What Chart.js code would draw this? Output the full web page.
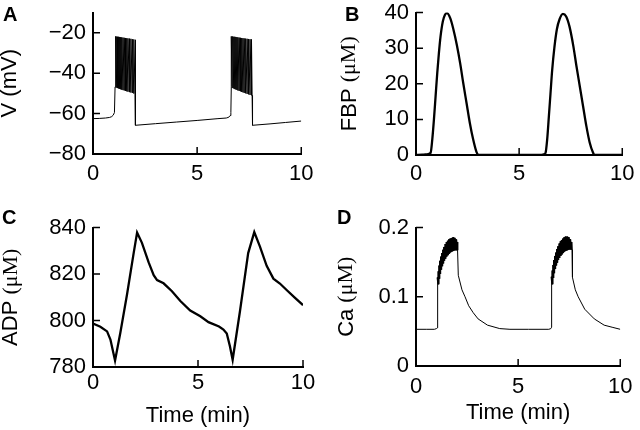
<!DOCTYPE html>
<html>
<head>
<meta charset="utf-8">
<script src="https://cdn.jsdelivr.net/npm/chart.js@4.4.0/dist/chart.umd.min.js"></script>
<style>
    body { margin: 0; background: #fff; }
    #wrap { position: relative; width: 640px; height: 430px; }
    canvas { position: absolute; }
    .tag { position: absolute; font-family: "Liberation Sans", Arial, sans-serif; font-weight: bold; font-size: 20px; line-height: 20px; color: #000; }
</style>
</head>
<body>
<div id="wrap">
    <canvas id="chartV" width="320" height="215" style="left:0;top:0"></canvas>
    <canvas id="chartFBP" width="320" height="215" style="left:320px;top:0"></canvas>
    <canvas id="chartADP" width="320" height="215" style="left:0;top:215px"></canvas>
    <canvas id="chartCa" width="320" height="215" style="left:320px;top:215px"></canvas>
    <div class="tag" style="left:3px;top:4px">A</div>
    <div class="tag" style="left:345px;top:4px">B</div>
    <div class="tag" style="left:2px;top:207px">C</div>
    <div class="tag" style="left:337px;top:207px">D</div>
</div>
<script>
// time axis (min)
const timeTicks = [0, 5, 10];

// A: membrane potential (mV)
const vTicks = [-80, -60, -40, -20];
const vRest1Time = [0, 0.3, 0.6, 0.8, 0.9, 0.97, 1.03];
const vRest1Value = [-62.5, -62.4, -62.2, -61.9, -61.5, -60.8, -59.5];
const vBurst1Time = [1.06, 1.10, 1.14, 1.18, 1.23, 1.28, 1.33, 1.38, 1.44, 1.50, 1.56, 1.62, 1.68, 1.75, 1.82, 1.89, 1.96, 2.02];
const vBurst1Trough = [-46.8, -47.0, -47.2, -47.4, -47.6, -47.8, -48.0, -48.2, -48.4, -48.6, -48.8, -49.0, -49.2, -49.4, -49.6, -49.8, -50.1, -50.3];
const vBurst1Peak = [-21.8, -21.8, -21.9, -22.0, -22.0, -22.1, -22.2, -22.3, -22.4, -22.5, -22.6, -22.7, -22.8, -22.9, -23.0, -23.2, -23.3, -23.5];
const vRest2Time = [2.04, 2.05, 3, 4, 5, 6, 6.4, 6.52, 6.58, 6.62];
const vRest2Value = [-50.5, -65.8, -65.0, -64.2, -63.4, -62.5, -62.2, -61.8, -61.0, -59.5];
const vBurst2Time = [6.64, 6.68, 6.72, 6.76, 6.81, 6.86, 6.91, 6.96, 7.02, 7.08, 7.14, 7.20, 7.26, 7.33, 7.40, 7.47, 7.54, 7.61];
const vBurst2Trough = [-46.8, -47.1, -47.4, -47.6, -47.9, -48.1, -48.3, -48.6, -48.8, -49.0, -49.3, -49.5, -49.8, -50.0, -50.3, -50.5, -50.8, -51.0];
const vBurst2Peak = [-21.8, -21.8, -21.9, -22.0, -22.0, -22.1, -22.2, -22.3, -22.4, -22.5, -22.6, -22.7, -22.8, -22.9, -23.0, -23.1, -23.2, -23.3];
const vRest3Time = [7.64, 7.66, 8.5, 9.25, 10];
const vRest3Value = [-51.0, -65.8, -65.1, -64.4, -63.7];

// B: FBP (uM)
const fbpTicks = [0, 10, 20, 30, 40];
const fbpTime = [0, 0.3, 0.55, 0.71, 0.79, 0.87, 0.95, 1.03, 1.11, 1.19, 1.30, 1.40, 1.50, 1.66, 1.82, 1.98, 2.14, 2.29, 2.45, 2.61, 2.77, 2.93, 3.04, 4.0, 5.0, 6.0, 6.2, 6.28, 6.36, 6.44, 6.52, 6.60, 6.71, 6.83, 6.96, 7.12, 7.28, 7.44, 7.63, 7.78, 7.94, 8.10, 8.26, 8.42, 8.58, 8.66, 9.0, 10];
const fbpValue = [0, 0.1, 0.2, 0.64, 4.4, 10, 16.5, 23, 28.6, 33.3, 37.5, 39.3, 39.8, 38.4, 35.1, 30.9, 25.8, 20.2, 14.6, 9.0, 4.4, 0.9, 0, 0, 0, 0, 0.2, 0.6, 4.4, 10.7, 17.2, 23.7, 30.2, 35.3, 38.1, 39.6, 38.9, 36.1, 30.5, 24.9, 19.3, 13.7, 8.1, 3.5, 0.7, 0, 0, 0];

// C: ADP (uM)
const adpTicks = [780, 800, 820, 840];
const adpTime = [0, 0.35, 0.67, 0.83, 0.95, 1.05, 1.30, 1.62, 1.94, 2.10, 2.33, 2.65, 2.89, 3.05, 3.36, 3.76, 4.16, 4.63, 5.11, 5.50, 6.00, 6.21, 6.37, 6.52, 6.65, 7.00, 7.39, 7.68, 7.95, 8.27, 8.59, 8.90, 9.22, 9.62, 10];
const adpValue = [798.7, 797.3, 795.3, 791.8, 786.9, 782.8, 794.6, 811.2, 829.2, 837.8, 833.4, 825.0, 819.5, 817.4, 816.0, 812.6, 808.4, 804.3, 801.8, 799.3, 797.4, 796.1, 794.4, 788.9, 783.1, 804.1, 829.0, 838.0, 831.8, 823.5, 818.0, 815.9, 813.1, 809.7, 806.6];

// D: Ca (uM)
const caTicks = [0, 0.1, 0.2];
const caRest1Time = [0, 0.5, 0.9, 1.0, 1.04];
const caRest1Value = [0.053, 0.053, 0.053, 0.054, 0.055];
const caBurst1Low = [0.056, 0.118, 0.126, 0.133, 0.139, 0.144, 0.148, 0.152, 0.155, 0.158, 0.160, 0.162, 0.164, 0.165, 0.166, 0.167, 0.167, 0.167];
const caBurst1High = [0.128, 0.137, 0.145, 0.152, 0.158, 0.163, 0.168, 0.172, 0.176, 0.179, 0.181, 0.183, 0.184, 0.185, 0.186, 0.185, 0.183, 0.179];
const caRest2Time = [2.05, 2.07, 2.25, 2.4, 2.58, 2.8, 3.04, 3.5, 4.1, 4.6, 5.5, 6.5, 6.6];
const caRest2Value = [0.167, 0.131, 0.11, 0.1, 0.087, 0.077, 0.068, 0.059, 0.054, 0.053, 0.053, 0.053, 0.054];
const caBurst2Low = [0.056, 0.118, 0.127, 0.134, 0.140, 0.145, 0.149, 0.153, 0.156, 0.159, 0.161, 0.163, 0.165, 0.166, 0.167, 0.168, 0.168, 0.168];
const caBurst2High = [0.129, 0.138, 0.146, 0.153, 0.159, 0.164, 0.169, 0.173, 0.177, 0.180, 0.182, 0.184, 0.186, 0.187, 0.187, 0.186, 0.183, 0.179];
const caRest3Time = [7.64, 7.66, 7.8, 7.94, 8.26, 8.73, 9.21, 9.6, 10];
const caRest3Value = [0.168, 0.128, 0.11, 0.1, 0.082, 0.068, 0.059, 0.056, 0.053];

const FONT = '"Liberation Sans", Arial, Helvetica, sans-serif';
const SANS = '22px ' + FONT;
const SERIF = '22px "Liberation Serif", "Times New Roman", serif';
Chart.defaults.font.family = FONT;
Chart.defaults.color = '#000';

function points(times, values) {
    return times.map((t, i) => ({ x: t, y: values[i] }));
}

// each spike: vertical jump from low to high at the same time
function spikes(times, lows, highs) {
    var result = [];
    for (var i = 0; i < times.length; i++) {
        result.push({ x: times[i], y: lows[i] });
        result.push({ x: times[i], y: highs[i] });
    }
    return result;
}

function minus(v) {
    return String(v).replace('-', '\u2212');
}

// tick marks point into the plot
const inwardTicks = {
    id: 'inwardTicks',
    afterDraw(chart) {
        const ctx = chart.ctx;
        const area = chart.chartArea;
        const xs = chart.scales.x;
        const ys = chart.scales.y;
        ctx.save();
        ctx.strokeStyle = '#000';
        ctx.lineWidth = 1.5;
        ctx.beginPath();
        xs.ticks.forEach(t => {
            if (t.value === xs.min) return;
            const px = xs.getPixelForValue(t.value);
            ctx.moveTo(px, area.bottom);
            ctx.lineTo(px, area.bottom - 7);
        });
        ys.ticks.forEach(t => {
            if (t.value === ys.min) return;
            const py = ys.getPixelForValue(t.value);
            ctx.moveTo(area.left, py);
            ctx.lineTo(area.left + 7, py);
        });
        ctx.stroke();
        ctx.restore();
    }
};

// rotated y title, units set in a serif face like the original
const unitTitle = {
    id: 'unitTitle',
    afterDraw(chart, args, opts) {
        const ctx = chart.ctx;
        const area = chart.chartArea;
        var total = 0;
        ctx.save();
        ctx.fillStyle = '#000';
        ctx.textBaseline = 'middle';
        ctx.textAlign = 'left';
        opts.parts.forEach(p => {
            ctx.font = p.font;
            p.w = ctx.measureText(p.text).width;
            total += p.w;
        });
        ctx.translate(opts.x, (area.top + area.bottom) / 2);
        ctx.rotate(-Math.PI / 2);
        var pos = -total / 2;
        opts.parts.forEach(p => {
            ctx.font = p.font;
            ctx.fillText(p.text, pos, 0);
            pos += p.w;
        });
        ctx.restore();
    }
};

function lineSet(data, width, tension, mode) {
    return {
        data: data,
        borderColor: '#000',
        borderWidth: width,
        pointRadius: 0,
        tension: tension || 0,
        cubicInterpolationMode: mode || 'default',
        fill: false,
        spanGaps: false
    };
}

function writeChart(chartId, datasets, o) {
    const ctx = document.getElementById(chartId).getContext('2d');

    var config = {
        type: 'line',
        data: { datasets: datasets },
        options: {
            responsive: false,
            animation: false,
            devicePixelRatio: 1,
            layout: { padding: { top: o.top, right: o.right, left: 0, bottom: 0 } },
            plugins: {
                legend: { display: false },
                tooltip: { enabled: false },
                unitTitle: { x: o.labelX, parts: o.label }
            },
            scales: {
                x: {
                    type: 'linear',
                    min: 0,
                    max: 10,
                    afterBuildTicks: s => { s.ticks = timeTicks.map(v => ({ value: v })); },
                    afterFit: s => { s.height = o.xHeight; },
                    grid: { display: true, drawOnChartArea: false, drawTicks: false },
                    border: { display: true, color: '#000', width: 2 },
                    ticks: { font: { size: 22 }, padding: o.xPad, maxRotation: 0, autoSkip: false },
                    title: {
                        display: o.showTime,
                        text: 'Time (min)',
                        font: { size: 22, lineHeight: 1 },
                        padding: { top: 0, bottom: o.timePad }
                    }
                },
                y: {
                    type: 'linear',
                    min: o.min,
                    max: o.max,
                    afterBuildTicks: s => { s.ticks = o.ticks.map(v => ({ value: v })); },
                    afterFit: s => { s.width = o.yWidth; },
                    grid: { display: true, drawOnChartArea: false, drawTicks: false },
                    border: { display: true, color: '#000', width: 2 },
                    ticks: { font: { size: 22, lineHeight: 0.5 }, padding: 7, autoSkip: false, callback: v => minus(v) }
                }
            }
        },
        plugins: [inwardTicks, unitTitle]
    };

    return new Chart(ctx, config);
}

var vData = points(vRest1Time, vRest1Value).concat(
    spikes(vBurst1Time, vBurst1Trough, vBurst1Peak),
    points(vRest2Time, vRest2Value),
    spikes(vBurst2Time, vBurst2Trough, vBurst2Peak),
    points(vRest3Time, vRest3Value));

var caBurst1 = spikes(vBurst1Time, caBurst1Low, caBurst1High);
var caBurst2 = spikes(vBurst2Time, caBurst2Low, caBurst2High);

var caData = points(caRest1Time, caRest1Value).concat(
    caBurst1,
    points(caRest2Time, caRest2Value),
    caBurst2,
    points(caRest3Time, caRest3Value));

// the bursts again, heavier, so the oscillating band reads as solid
var caBand = caBurst1.slice(1).concat([{ x: 4, y: null }], caBurst2.slice(1));

writeChart('chartV', [lineSet(vData, 1)], {
    top: 10, right: 17, yWidth: 93, xHeight: 61, xPad: 6.5,
    min: -80, max: -10, ticks: vTicks, showTime: false,
    labelX: 10, label: [{ text: 'V (mV)', font: SANS }]
});

writeChart('chartFBP', [lineSet(points(fbpTime, fbpValue), 2.3, 0.4, 'monotone')], {
    top: 11, right: 13, yWidth: 96, xHeight: 60, xPad: 5.5,
    min: 0, max: 40, ticks: fbpTicks, showTime: false,
    labelX: 29.5, label: [{ text: 'FBP ', font: SANS }, { text: '(\u03bcM)', font: SERIF }]
});

writeChart('chartADP', [lineSet(points(adpTime, adpValue), 2.3)], {
    top: 7, right: 17, yWidth: 93, xHeight: 63, xPad: 3,
    min: 780, max: 840, ticks: adpTicks, showTime: true, timePad: 3,
    labelX: 11, label: [{ text: 'ADP ', font: SANS }, { text: '(\u03bcM)', font: SERIF }]
});

writeChart('chartCa', [lineSet(caData, 1), lineSet(caBand, 2.2)], {
    top: 7, right: 13, yWidth: 96, xHeight: 64, xPad: 7.5,
    min: 0, max: 0.2, ticks: caTicks, showTime: true, timePad: 6,
    labelX: 26.5, label: [{ text: 'Ca ', font: SANS }, { text: '(\u03bcM)', font: SERIF }]
});
</script>
</body>
</html>
